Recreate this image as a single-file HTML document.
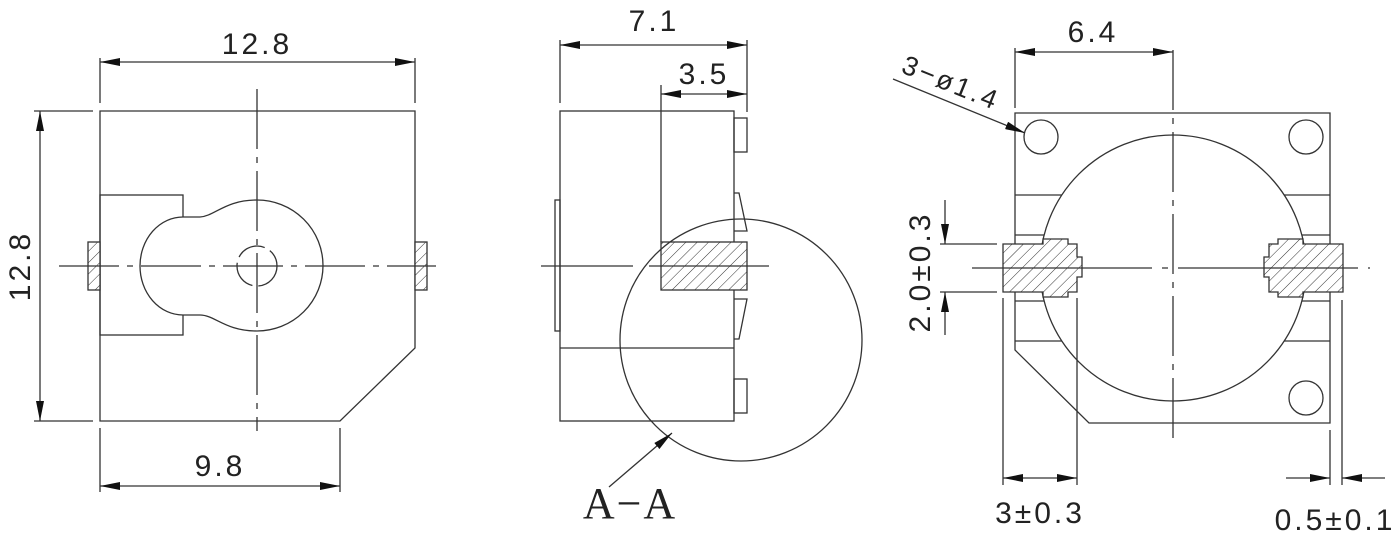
<!DOCTYPE html>
<html><head><meta charset="utf-8"><style>
html,body{margin:0;padding:0;background:#fff;}
svg{display:block;}
text{font-family:"Liberation Sans",sans-serif;fill:#222;font-size:30px;letter-spacing:3px;}
</style></head><body>
<svg width="1400" height="533" viewBox="0 0 1400 533" xmlns="http://www.w3.org/2000/svg">
<defs>
<marker id="a" viewBox="0 0 20 8" refX="20" refY="4" markerWidth="20" markerHeight="8" markerUnits="userSpaceOnUse" orient="auto-start-reverse"><path d="M0,0 L20,4 L0,8 Z" fill="#111"/></marker>
<pattern id="h" width="8" height="8" patternUnits="userSpaceOnUse" patternTransform="rotate(45)"><rect width="8" height="8" fill="#fff"/><line x1="0" y1="0" x2="0" y2="8" stroke="#333" stroke-width="1"/></pattern>
</defs>
<g fill="none" stroke="#333" stroke-width="1.3">
<!-- VIEW 1 -->
<path d="M100,111 H415 V348 L340,421 H100 Z"/>
<rect x="100" y="195" width="83" height="140"/>
<path d="M183,217 L200,217 C215,216 225,200 257,200 A66 65.5 0 0 1 257,331 C225,331 215,315 200,315 L183,315 A43 49 0 0 1 183,217 Z" fill="#fff"/>
<circle cx="257" cy="266" r="20" stroke-dasharray="30 6"/>
<rect x="88" y="242" width="12" height="48" fill="url(#h)"/>
<rect x="415" y="242" width="12" height="48" fill="url(#h)"/>
<line x1="257" y1="89" x2="257" y2="431" stroke-dasharray="60 8 6 8"/>
<line x1="59" y1="266" x2="436" y2="266" stroke-dasharray="60 8 6 8"/>
<line x1="100" y1="62" x2="415" y2="62" marker-start="url(#a)" marker-end="url(#a)"/>
<line x1="100" y1="58" x2="100" y2="103"/><line x1="415" y1="58" x2="415" y2="103"/>
<line x1="40" y1="111" x2="40" y2="421" marker-start="url(#a)" marker-end="url(#a)"/>
<line x1="34" y1="111" x2="93" y2="111"/><line x1="34" y1="421" x2="93" y2="421"/>
<line x1="100" y1="486" x2="340" y2="486" marker-start="url(#a)" marker-end="url(#a)"/>
<line x1="100" y1="428" x2="100" y2="492"/><line x1="340" y1="428" x2="340" y2="492"/>
<!-- VIEW 2 -->
<rect x="560" y="111" width="174" height="310"/>
<line x1="560" y1="348" x2="734" y2="348"/>
<rect x="555" y="200" width="5" height="131"/>
<rect x="734" y="118" width="13" height="34"/>
<path d="M734,193 L739,193 L747,231 L734,231"/>
<path d="M734,299 L747,299 L739,339 L734,339"/>
<rect x="734" y="379" width="13" height="34"/>
<line x1="661" y1="85" x2="661" y2="242"/>
<rect x="661" y="242" width="86" height="48" fill="url(#h)"/>
<line x1="541" y1="266" x2="633" y2="266"/><line x1="649" y1="266" x2="769" y2="266"/>
<circle cx="741" cy="340" r="121"/>
<line x1="560" y1="45" x2="747" y2="45" marker-start="url(#a)" marker-end="url(#a)"/>
<line x1="560" y1="40" x2="560" y2="103"/><line x1="747" y1="40" x2="747" y2="112"/>
<line x1="661" y1="94" x2="747" y2="94" marker-start="url(#a)" marker-end="url(#a)"/>
<line x1="609" y1="487" x2="672" y2="433" marker-end="url(#a)"/>
<!-- VIEW 3 -->
<path d="M1015,113 H1330 V423 H1089 L1015,350 Z"/>
<line x1="1015" y1="195" x2="1330" y2="195"/><line x1="1015" y1="235" x2="1330" y2="235"/>
<line x1="1015" y1="301" x2="1330" y2="301"/><line x1="1015" y1="341" x2="1330" y2="341"/>
<circle cx="1173" cy="268" r="133" fill="#fff"/>
<circle cx="1041" cy="137" r="17"/><circle cx="1306" cy="137" r="17"/><circle cx="1306" cy="398" r="17"/>
<polygon points="1003,244 1043,244 1043,239 1068,239 1068,244 1077,244 1077,257 1082,257 1082,277 1077,277 1077,292 1068,292 1068,297 1043,297 1043,292 1003,292" fill="url(#h)"/>
<polygon points="1343,244 1303,244 1303,239 1278,239 1278,244 1269,244 1269,257 1264,257 1264,277 1269,277 1269,292 1278,292 1278,297 1303,297 1303,292 1343,292" fill="url(#h)"/>
<line x1="972" y1="268" x2="1370" y2="268" stroke-dasharray="180 10 6 10"/>
<line x1="1173" y1="50" x2="1173" y2="445" stroke-dasharray="60 8 6 8"/>
<line x1="1015" y1="52" x2="1173" y2="52" marker-start="url(#a)" marker-end="url(#a)"/>
<line x1="1015" y1="48" x2="1015" y2="108"/>
<line x1="893" y1="79" x2="1025" y2="133" marker-end="url(#a)"/>
<line x1="940" y1="244" x2="997" y2="244"/><line x1="940" y1="292" x2="997" y2="292"/>
<line x1="945" y1="200" x2="945" y2="244" marker-end="url(#a)"/>
<line x1="945" y1="335" x2="945" y2="292" marker-end="url(#a)"/>
<line x1="1003" y1="298" x2="1003" y2="485"/><line x1="1077" y1="298" x2="1077" y2="485"/>
<line x1="1003" y1="478" x2="1077" y2="478" marker-start="url(#a)" marker-end="url(#a)"/>
<line x1="1330" y1="430" x2="1330" y2="485"/><line x1="1342" y1="300" x2="1342" y2="485"/>
<line x1="1286" y1="478" x2="1330" y2="478" marker-end="url(#a)"/>
<line x1="1385" y1="478" x2="1342" y2="478" marker-end="url(#a)"/>
</g>
<text x="257" y="54" text-anchor="middle">12.8</text>
<text transform="translate(30,266) rotate(-90)" text-anchor="middle">12.8</text>
<text x="220" y="476" text-anchor="middle">9.8</text>
<text x="654" y="31" text-anchor="middle">7.1</text>
<text x="704" y="84" text-anchor="middle">3.5</text>
<text x="630" y="518" text-anchor="middle" style="font-family:'Liberation Serif',serif;font-size:44px;letter-spacing:2px">A−A</text>
<text x="1093" y="42" text-anchor="middle">6.4</text>
<text transform="translate(900,72) rotate(22)" style="font-size:27px">3−ø1.4</text>
<text transform="translate(930,272) rotate(-90)" text-anchor="middle">2.0±0.3</text>
<text x="1040" y="523" text-anchor="middle">3±0.3</text>
<text x="1335" y="530" text-anchor="middle">0.5±0.1</text>
</svg>
</body></html>
